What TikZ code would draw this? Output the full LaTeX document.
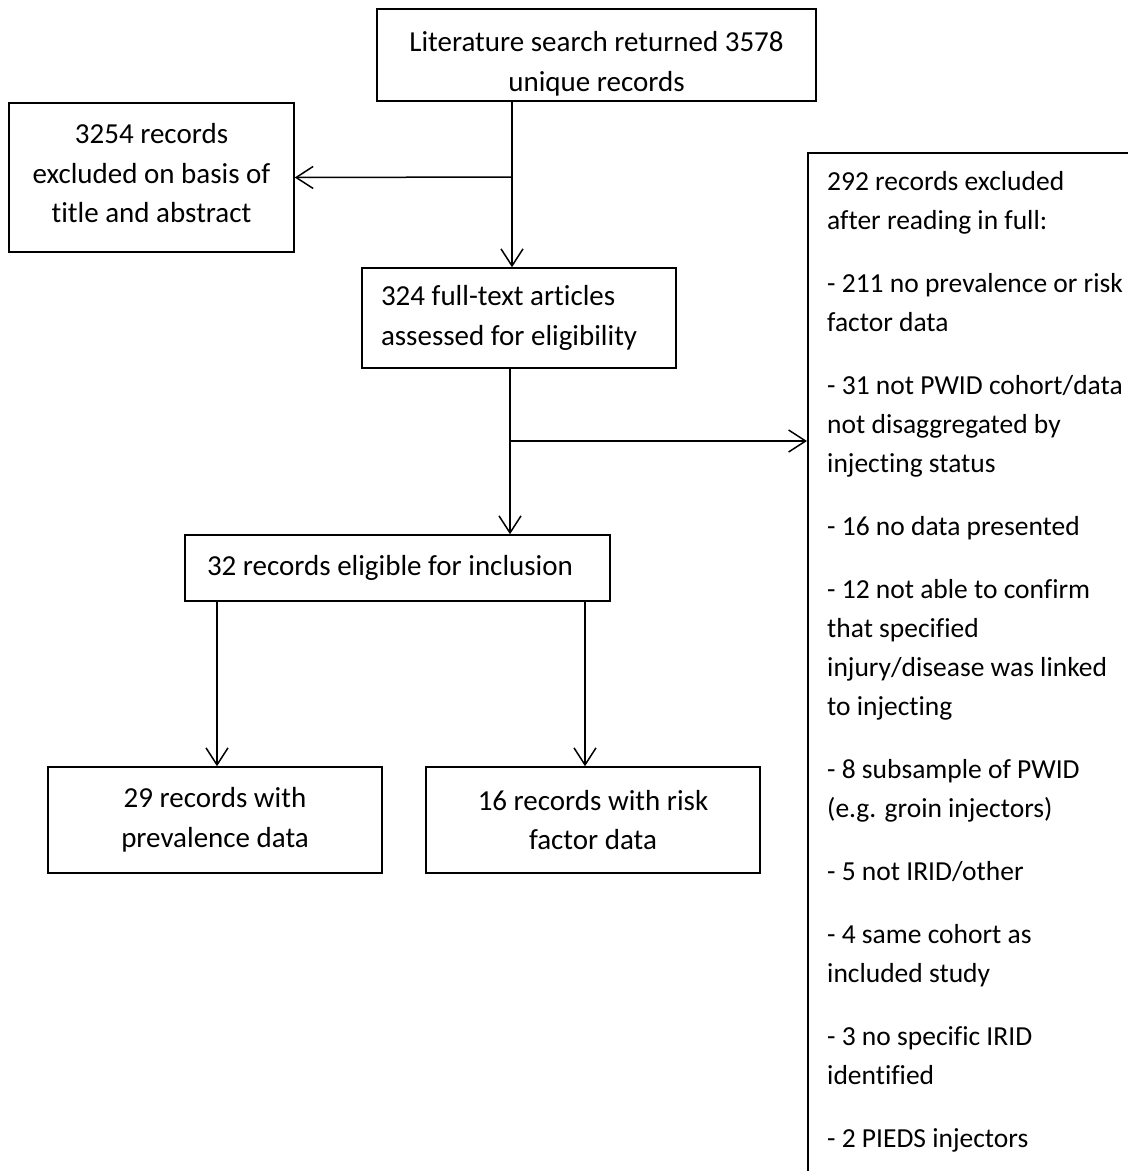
\documentclass[tikz,border=0pt]{standalone}
\usepackage{fontspec}
\setmainfont{Carlito}[Ligatures=NoCommon]
\usetikzlibrary{arrows.meta}
\begin{document}
\begin{tikzpicture}[x=1pt,y=-1pt,
  every node/.style={font=\fontsize{29}{39.5}\selectfont},
  box/.style={draw, line width=1.5pt, inner sep=0pt, align=center},
  conn/.style={line width=1.5pt, -{Straight Barb[length=17pt,width=22pt,line width=1.5pt]}},
  exfont/.style={font=\fontsize{27.5}{39.1}\selectfont}]
\useasboundingbox (0,0) rectangle (1128,1171);
\clip (0,0) rectangle (1128,1171);
% boxes
\node[box, minimum width=439pt, minimum height=92pt] (top) at (596.5,55) {};
\node[inner sep=0pt, align=center] (toptext) at (596.5,64) {Literature search returned 3578\\unique records};
\node[box, minimum width=285pt, minimum height=149pt] (left) at (151.5,177.5) {};
\node[inner sep=0pt, align=center] (lefttext) at (151.5,173.5) {3254 records\\excluded on basis of\\title and abstract};
\node[box, minimum width=314pt, minimum height=100pt, align=flush left, text width=276pt] (full) at (519,318) {324 full-text articles\\assessed for eligibility};
\node[box, minimum width=425pt, minimum height=66pt, align=flush left, text width=381pt] (elig) at (397.5,568) {32 records eligible for inclusion};
\node[box, minimum width=334pt, minimum height=106pt] (prev) at (215,820) {29 records with\\prevalence data};
\node[box, minimum width=334pt, minimum height=106pt] (risk) at (593,820) {16 records with risk\\factor data};
\node[draw, line width=1.5pt, anchor=north west, inner sep=0pt, minimum width=360pt, minimum height=1060pt] (excl) at (807,152) {};
\node[exfont, anchor=north west, inner sep=0pt, align=flush left] (excltext) at (827,171.5) {292 records excluded\\after reading in full:\\[23.7pt]
- 211 no prevalence or risk\\factor data\\[23.7pt]
- 31 not PWID cohort/data\\not disaggregated by\\injecting status\\[23.7pt]
- 16 no data presented\\[23.7pt]
- 12 not able to confirm\\that specified\\injury/disease was linked\\to injecting\\[23.7pt]
- 8 subsample of PWID\\(e.g. groin injectors)\\[23.7pt]
- 5 not IRID/other\\[23.7pt]
- 4 same cohort as\\included study\\[23.7pt]
- 3 no specific IRID\\identified\\[23.7pt]
- 2 PIEDS injectors};
% connectors
\coordinate (c1) at (512,177);
\coordinate (c2) at (510,441);
\coordinate (c3) at (217,0);
\coordinate (c4) at (585,0);
\draw[conn] (c1 |- top.south) -- (c1 |- full.north);
\draw[conn] (c1) -- (left.east);
\draw[conn] (c2 |- full.south) -- (c2 |- elig.north);
\draw[conn] (c2) -- (c2 -| excl.west);
\draw[conn] (c3 |- elig.south) -- (c3 |- prev.north);
\draw[conn] (c4 |- elig.south) -- (c4 |- risk.north);
\end{tikzpicture}
\end{document}
